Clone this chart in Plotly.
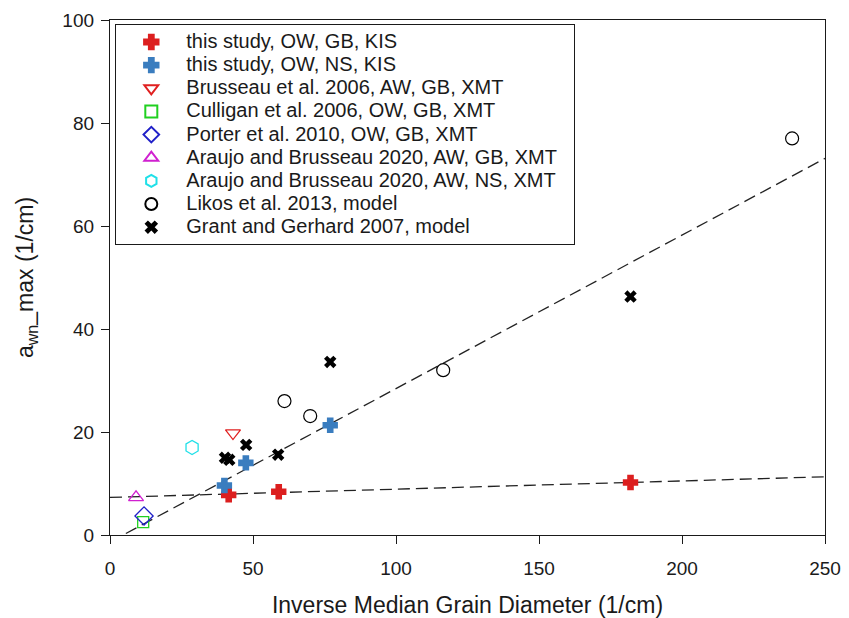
import plotly.graph_objects as go
import numpy as np

# Data
gb_x = [41.5, 59, 182]
gb_y = [7.8, 8.4, 10.2]
ns_x = [40, 47.5, 77]
ns_y = [9.6, 14.0, 21.3]
bru_x = [43]; bru_y = [19.8]
cul_x = [11.6]; cul_y = [2.5]
por_x = [11.9]; por_y = [3.7]
ara_gb_x = [9.1]; ara_gb_y = [7.3]
ara_ns_x = [28.7]; ara_ns_y = [17.0]
lik_x = [61, 70, 116.5, 238.5]
lik_y = [26.0, 23.1, 32.0, 77.0]
gra_x = [40.2, 41.7, 47.6, 58.8, 77, 182]
gra_y = [15.0, 14.6, 17.5, 15.6, 33.6, 46.3]

# Trend lines (intercept, slope)
fit_steep = (-1.37, 0.298)
fit_flat = (7.3, 0.016)
x_range = [0, 250]

FONT = "Liberation Sans, Arial, sans-serif"
INK = "#1a1a1a"

def lg(t):
    return '<span style="font-size:20px">' + t + '&nbsp;&nbsp;</span>'

fig = go.Figure()

series = [
    ("this study, OW, GB, KIS", gb_x, gb_y, dict(symbol="cross", size=11, color="#dc1f1f", line=dict(width=2.2, color="#dc1f1f"))),
    ("this study, OW, NS, KIS", ns_x, ns_y, dict(symbol="cross", size=11, color="#3a7dbf", line=dict(width=2.2, color="#3a7dbf"))),
    ("Brusseau et al. 2006, AW, GB, XMT", bru_x, bru_y, dict(symbol="triangle-down-open", size=13, color="#e02020", line=dict(width=1.3))),
    ("Culligan et al. 2006, OW, GB, XMT", cul_x, cul_y, dict(symbol="square-open", size=11, color="#20d020", line=dict(width=1.3))),
    ("Porter et al. 2010, OW, GB, XMT", por_x, por_y, dict(symbol="diamond-open", size=14, color="#2020c8", line=dict(width=1.3))),
    ("Araujo and Brusseau 2020, AW, GB, XMT", ara_gb_x, ara_gb_y, dict(symbol="triangle-up-open", size=13, color="#d020d0", line=dict(width=1.3))),
    ("Araujo and Brusseau 2020, AW, NS, XMT", ara_ns_x, ara_ns_y, dict(symbol="hexagon-open", size=14, color="#20e0e8", line=dict(width=1.3))),
    ("Likos et al. 2013, model", lik_x, lik_y, dict(symbol="circle-open", size=13, color="black", line=dict(width=1.2))),
    ("Grant and Gerhard 2007, model", gra_x, gra_y, dict(symbol="x", size=11, color="black", line=dict(width=0))),
]

for fit in (fit_steep, fit_flat):
    xs = np.array(x_range, dtype=float)
    ys = fit[0] + fit[1] * xs
    fig.add_trace(go.Scatter(x=xs, y=ys, mode="lines", showlegend=False,
                             line=dict(color="#222222", width=1.3, dash="12px,6px"),
                             hoverinfo="skip"))

for name, xs, ys, mk in series:
    fig.add_trace(go.Scatter(x=xs, y=ys, mode="markers", name=lg(name), marker=mk,
                             cliponaxis=False))

fig.update_layout(
    width=849, height=618,
    margin=dict(l=110, r=24, t=20, b=83),
    paper_bgcolor="white", plot_bgcolor="white",
    font=dict(family=FONT, color=INK, size=19),
    showlegend=True,
    legend=dict(x=0.007, y=0.992, xanchor="left", yanchor="top",
                bgcolor="white", bordercolor=INK, borderwidth=1.3,
                font=dict(family=FONT, size=15.5, color=INK),
                itemwidth=60, itemsizing="constant", tracegroupgap=0),
    xaxis=dict(range=x_range, tickvals=[0, 50, 100, 150, 200, 250],
               showgrid=False, zeroline=False, showline=True, linecolor=INK,
               linewidth=1.3, mirror=True, ticks="outside", ticklen=8, tickcolor=INK,
               tickfont=dict(size=19), ticklabelstandoff=8, automargin=False,
               title=dict(text="Inverse Median Grain Diameter (1/cm)", font=dict(size=23), standoff=18)),
    yaxis=dict(range=[0, 100], tickvals=[0, 20, 40, 60, 80, 100],
               showgrid=False, zeroline=False, showline=True, linecolor=INK,
               linewidth=1.3, mirror=True, ticks="outside", ticklen=8, tickcolor=INK,
               tickfont=dict(size=19), ticklabelstandoff=3, automargin=False,
               title=dict(text="a<sub>wn</sub>_max (1/cm)", font=dict(size=23), standoff=22)),
)

fig.write_html("out.html")
